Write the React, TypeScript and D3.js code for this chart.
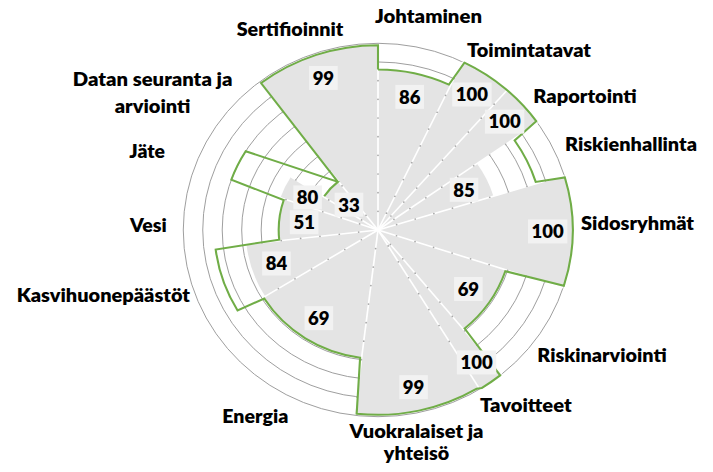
import React from 'react';
import * as d3 from 'd3';

// ---- data ----
const categories = [
  'Johtaminen',
  'Toimintatavat',
  'Raportointi',
  'Riskienhallinta',
  'Sidosryhmät',
  'Riskinarviointi',
  'Tavoitteet',
  'Vuokralaiset ja yhteisö',
  'Energia',
  'Kasvihuonepäästöt',
  'Vesi',
  'Jäte',
  'Datan seuranta ja arviointi',
  'Sertifioinnit',
];
// labelled score (green outline)
const scores = [86, 100, 100, 85, 100, 69, 100, 99, 69, 84, 51, 80, 33, 99];
// grey filled series
const baseline = [86, 100, 100, 62, 100, 69, 100, 99, 69, 68, 51, 53, 33, 99];
// sector boundaries in degrees, clockwise from north
const sectorEdges = [0, 25.7, 41.5, 55, 73, 108, 140.5, 148.5, 187, 238.5, 263.5, 289, 302.5, 322, 360];
const gridValues = [10, 20, 30, 40, 50, 60, 70, 80, 90, 100];

// ---- layout (text placement) ----
const labelLayout: { lines: string[]; x: number; y: number[]; w: number[] }[] = [
  { lines: ['Johtaminen'], x: 428.5, y: [23], w: [107] },
  { lines: ['Toimintatavat'], x: 529, y: [57.3], w: [124] },
  { lines: ['Raportointi'], x: 585, y: [102.7], w: [103.4] },
  { lines: ['Riskienhallinta'], x: 631, y: [150.7], w: [132] },
  { lines: ['Sidosryhmät'], x: 637.5, y: [230], w: [113] },
  { lines: ['Riskinarviointi'], x: 602, y: [361.7], w: [129.4] },
  { lines: ['Tavoitteet'], x: 525.8, y: [411.7], w: [91.7] },
  { lines: ['Vuokralaiset ja', 'yhteisö'], x: 416.5, y: [438.3, 460], w: [134, 65.3] },
  { lines: ['Energia'], x: 255.3, y: [422.7], w: [66] },
  { lines: ['Kasvihuonepäästöt'], x: 103.3, y: [301.7], w: [173.3] },
  { lines: ['Vesi'], x: 148.3, y: [232.3], w: [36.7] },
  { lines: ['Jäte'], x: 147.2, y: [158.3], w: [35.7] },
  { lines: ['Datan seuranta ja', 'arviointi'], x: 152.6, y: [86, 112.7], w: [159.6, 75.7] },
  { lines: ['Sertifioinnit'], x: 290, y: [35.7], w: [106.6] },
];

const W = 713;
const H = 472;
const CX = 378;
const CY = 230;
const R = 186.7;
const SX = 1.043;

const GREEN = '#70AD47';
const GREY = '#e4e4e4';
const FONT = "Lato, 'Open Sans', 'DejaVu Sans', sans-serif";

export default function App() {
  const rScale = d3.scaleLinear().domain([0, 100]).range([0, R]);
  const rad = (d: number) => (d * Math.PI) / 180;
  const pt = (v: number, deg: number): [number, number] => {
    const r = rScale(v);
    const a = rad(deg);
    return [r * Math.sin(a), -r * Math.cos(a)];
  };
  const n = categories.length;

  const arcGen = d3.arc<any>();
  const sectors = categories.map((c, i) =>
    arcGen({
      innerRadius: 0,
      outerRadius: rScale(baseline[i]),
      startAngle: rad(sectorEdges[i]),
      endAngle: rad(sectorEdges[i + 1]),
    }) as string
  );

  // spokes at sector boundaries
  const spokes = sectorEdges.slice(0, n).map((deg, i) => {
    const prev = (i - 1 + n) % n;
    const len = Math.max(baseline[i], baseline[prev]);
    return { deg, len };
  });

  // green outline path
  const gap = 0.65;
  const p = d3.path();
  let started = false;
  let firstPt: [number, number] = [0, 0];
  categories.forEach((c, i) => {
    const a0 = sectorEdges[i] + (i === 0 ? 0 : gap);
    const a1 = sectorEdges[i + 1] - (i === n - 1 ? 0 : gap);
    const r = rScale(scores[i]);
    const reversed = c.startsWith('Datan');
    const from = reversed ? a1 : a0;
    const to = reversed ? a0 : a1;
    const [x0, y0] = pt(scores[i], from);
    if (!started) {
      p.moveTo(x0, y0);
      firstPt = [x0, y0];
      started = true;
    } else {
      p.lineTo(x0, y0);
    }
    p.arc(0, 0, r, rad(from - 90), rad(to - 90), reversed);
    if (reversed) {
      const [xm, ym] = pt(scores[i], a1);
      p.moveTo(xm, ym);
    }
  });
  p.lineTo(firstPt[0], firstPt[1]);

  // value label positions
  const valueLabels = categories.map((c, i) => {
    const mid = (sectorEdges[i] + sectorEdges[i + 1]) / 2;
    const r = rScale(baseline[i]) - 24;
    const a = rad(mid);
    return {
      x: CX + r * Math.sin(a) * SX,
      y: CY - r * Math.cos(a),
      text: String(scores[i]),
    };
  });

  return (
    <svg
      width={W}
      height={H}
      style={{ position: 'absolute', left: 0, top: 0, background: '#fff' }}
    >
      <g transform={`translate(${CX},${CY}) scale(${SX},1)`}>
        {gridValues.map((v) => (
          <circle key={v} r={rScale(v)} fill="none" stroke="#959595" strokeWidth={0.9} />
        ))}
        {sectors.map((d, i) => (
          <path key={i} d={d} fill={GREY} />
        ))}
        {spokes.map((s, i) => {
          const [x, y] = pt(s.len, s.deg);
          return <line key={i} x1={0} y1={0} x2={x} y2={y} stroke="#fff" strokeWidth={1.6} />;
        })}
        {spokes.map((s, i) =>
          gridValues
            .filter((v) => v < s.len)
            .map((v) => {
              const [x, y] = pt(v, s.deg);
              return <circle key={`${i}-${v}`} cx={x} cy={y} r={0.85} fill="#a8a8a8" />;
            })
        )}
        <path d={p.toString()} fill="none" stroke={GREEN} strokeWidth={2} strokeLinejoin="miter" />
      </g>
      {valueLabels.map((l, i) => {
        const w = l.text.length * 10.8 + 7;
        return (
          <g key={i}>
            <rect x={l.x - w / 2} y={l.y - 12} width={w} height={24} fill="#f2f2f2" />
            <text
              x={l.x}
              y={l.y + 6.8}
              textAnchor="middle"
              fontFamily={FONT}
              fontWeight={800}
              fontSize={18.5}
              fill="#000"
            >
              {l.text}
            </text>
          </g>
        );
      })}
      {labelLayout.map((l, i) =>
        l.lines.map((line, j) => (
          <text
            key={`${i}-${j}`}
            x={l.x}
            y={l.y[j]}
            textAnchor="middle"
            fontFamily={FONT}
            fontWeight={800}
            fontSize={18}
            fill="#000"
            textLength={l.w[j]}
            lengthAdjust="spacingAndGlyphs"
          >
            {line}
          </text>
        ))
      )}
    </svg>
  );
}
